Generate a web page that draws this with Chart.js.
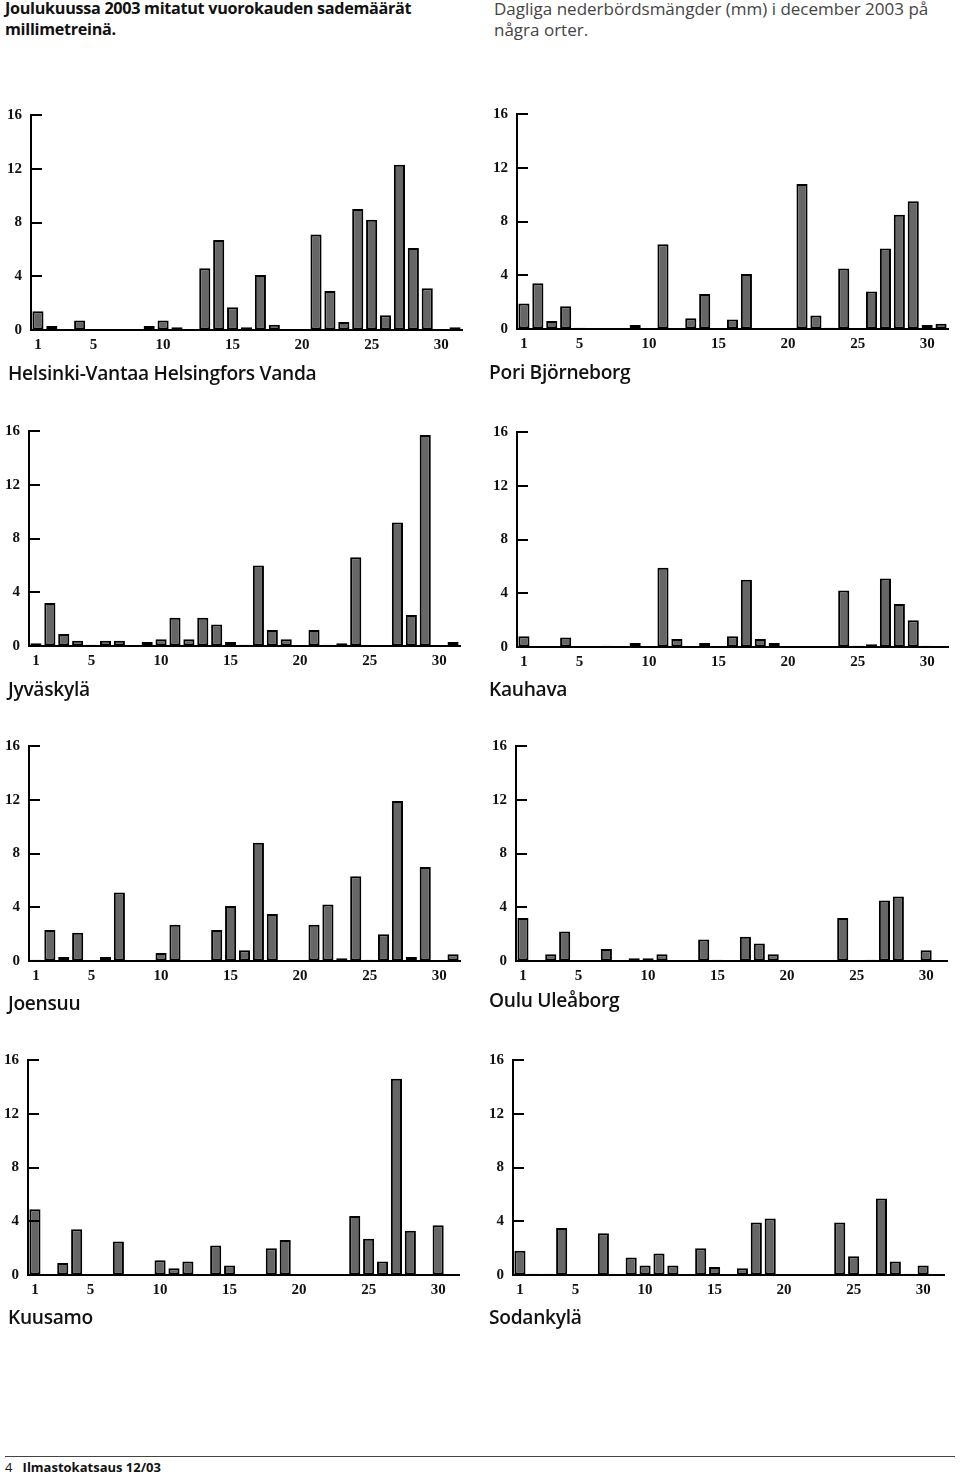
<!DOCTYPE html>
<html><head><meta charset="utf-8">
<script src="https://cdn.jsdelivr.net/npm/chart.js@4"></script>
<style>
body{margin:0;background:#fff;width:960px;height:1474px;position:relative;overflow:hidden;font-family:'Open Sans',sans-serif}
.hdrL{position:absolute;left:5px;top:-2px;font-size:16.2px;line-height:21px;font-weight:700;color:#111;font-family:'Open Sans',sans-serif;letter-spacing:-0.3px}
.hdrR{position:absolute;left:494px;top:-2px;font-size:17px;line-height:21px;font-weight:400;color:#444;font-family:'Open Sans',sans-serif;letter-spacing:0px}
.ttl{position:absolute;font-size:19.2px;font-weight:600;color:#111;line-height:24px;white-space:nowrap;letter-spacing:-0.3px}
.foot{position:absolute;left:5px;top:1456px;width:950px;border-top:1px solid #444}
.ftxt{position:absolute;left:5px;top:1459px;font-size:13px;line-height:16px;color:#111}
canvas{position:absolute}
</style></head><body>
<div class="hdrL">Joulukuussa 2003 mitatut vuorokauden sademäärät<br>millimetreinä.</div>
<div class="hdrR">Dagliga nederbördsmängder (mm) i december 2003 på<br>några orter.</div>
<div class="foot"></div>
<div class="ftxt">4&nbsp;&nbsp;&nbsp;<b>Ilmastokatsaus 12/03</b></div>
<script>
// ---- data ----
const days = Array.from({length:31},(_,i)=>String(i+1));
const xTickLabels = ['1','5','10','15','20','25','30'];
const yTicks = [0,4,8,12,16];
const stations = ['Helsinki-Vantaa Helsingfors Vanda','Pori Björneborg','Jyväskylä','Kauhava','Joensuu','Oulu Uleåborg','Kuusamo','Sodankylä'];

const helsinki  = [1.4,0.3,0,0.7,0,0,0,0,0.3,0.7,0.2,0,4.6,6.7,1.7,0.2,4.1,0.4,0,0,7.1,2.9,0.6,9.0,8.2,1.1,12.3,6.1,3.1,0,0.2];
const pori      = [1.9,3.4,0.6,1.7,0.1,0,0,0,0.3,0,6.3,0,0.8,2.6,0,0.7,4.1,0,0,0,10.8,1.0,0.1,4.5,0,2.8,6.0,8.5,9.5,0.3,0.4];
const jyvaskyla = [0.2,3.2,0.9,0.4,0.1,0.4,0.4,0,0.3,0.5,2.1,0.5,2.1,1.6,0.3,0.1,6.0,1.2,0.5,0,1.2,0.1,0.2,6.6,0,0,9.2,2.3,15.7,0,0.3];
const kauhava   = [0.8,0,0,0.7,0,0,0.1,0,0.3,0,5.9,0.6,0,0.3,0,0.8,5.0,0.6,0.3,0,0,0,0,4.2,0.1,0.2,5.1,3.2,2.0,0.1,0];
const joensuu   = [0.1,2.3,0.3,2.1,0,0.3,5.1,0,0,0.6,2.7,0,0,2.3,4.1,0.8,8.8,3.5,0,0,2.7,4.2,0.2,6.3,0.1,2.0,11.9,0.3,7.0,0,0.5];
const oulu      = [3.2,0,0.5,2.2,0,0,0.9,0,0.2,0.2,0.5,0,0,1.6,0.1,0,1.8,1.3,0.5,0,0,0,0,3.2,0,0.1,4.5,4.8,0,0.8,0];
const kuusamo   = [4.9,0,0.9,3.4,0,0,2.5,0,0,1.1,0.5,1.0,0,2.2,0.7,0,0,2.0,2.6,0,0,0,0,4.4,2.7,1.0,14.6,3.3,0,3.7,0];
const sodankyla = [1.8,0.1,0.1,3.5,0,0,3.1,0,1.3,0.7,1.6,0.7,0,2.0,0.6,0,0.5,3.9,4.2,0,0,0,0,3.9,1.4,0.1,5.7,1.0,0.1,0.7,0];

const series = [helsinki,pori,jyvaskyla,kauhava,joensuu,oulu,kuusamo,sodankyla];

// ---- layout (axis origin x, top of plot y, title position) ----
const layoutPanels = [
  {ax:31, top:109, tx:8,   ty:361},
  {ax:517,top:108, tx:489, ty:360},
  {ax:29, top:425, tx:8,   ty:677},
  {ax:517,top:426, tx:489, ty:677},
  {ax:29, top:740, tx:8,   ty:991},
  {ax:516,top:740, tx:489, ty:988},
  {ax:28, top:1054,tx:8,   ty:1305},
  {ax:513,top:1054,tx:489, ty:1305}
];
const PLOT_H = 221, PLOT_W = 431, YW = 40, PADT = 12, XH = 30;

const inwardTicks = {
  id:'inwardTicks',
  afterDraw(chart){
    const y = chart.scales.y, ctx = chart.ctx, left = chart.chartArea.left;
    ctx.save();
    ctx.strokeStyle = '#000'; ctx.lineWidth = 2;
    yTicks.forEach(v=>{
      if(v===0) return;
      const py = Math.round(y.getPixelForValue(v));
      ctx.beginPath(); ctx.moveTo(left-1,py); ctx.lineTo(left+11,py); ctx.stroke();
    });
    ctx.restore();
  }
};

const tickFont = {family:"'Liberation Serif', serif", size:15, weight:'bold'};

stations.forEach((name,i)=>{
  const L = layoutPanels[i];
  const cv = document.createElement('canvas');
  cv.width = YW + PLOT_W + 6; cv.height = PADT + PLOT_H + XH;
  cv.style.left = (L.ax - YW)+'px'; cv.style.top = (L.top - PADT)+'px';
  document.body.appendChild(cv);
  const t = document.createElement('div');
  t.className = 'ttl'; t.textContent = name;
  t.style.left = L.tx+'px'; t.style.top = L.ty+'px';
  document.body.appendChild(t);
  new Chart(cv,{
    type:'bar',
    data:{labels:days, datasets:[{label:name, data:series[i], backgroundColor:'#666666', borderColor:'#000', borderWidth:2, borderSkipped:false, barPercentage:0.8, categoryPercentage:1}]},
    options:{
      responsive:false, animation:false, devicePixelRatio:1,
      layout:{padding:{top:PADT,right:6,left:0,bottom:0}},
      plugins:{legend:{display:false}, tooltip:{enabled:false}, title:{display:false}},
      scales:{
        x:{
          grid:{display:true, drawOnChartArea:false, drawTicks:false},
          border:{display:true, color:'#000', width:2},
          ticks:{autoSkip:false, maxRotation:0, minRotation:0, padding:6, color:'#111', font:tickFont,
            callback:(v,idx)=> xTickLabels.includes(days[idx]) ? days[idx] : ''},
          afterFit:s=>{s.height = XH;}
        },
        y:{
          min:0, max:16,
          grid:{display:true, drawOnChartArea:false, drawTicks:false},
          border:{display:true, color:'#000', width:2},
          ticks:{stepSize:4, padding:9, color:'#111', font:tickFont},
          afterFit:s=>{s.width = YW;}
        }
      }
    },
    plugins:[inwardTicks]
  });
});
</script>
</body></html>
